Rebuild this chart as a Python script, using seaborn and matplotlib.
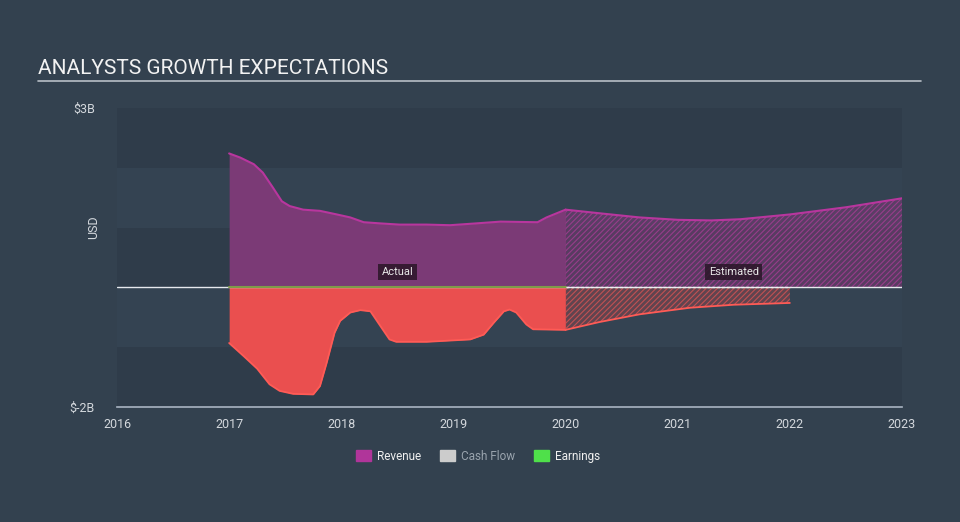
import numpy as np
import pandas as pd
import matplotlib
matplotlib.use("Agg")
import matplotlib.pyplot as plt
from matplotlib.patches import Patch
import seaborn as sns

# ---- data (billions USD) ----
rev_act_x = [2017.0, 2017.10, 2017.22, 2017.30, 2017.39, 2017.47, 2017.54, 2017.66, 2017.81, 2017.96, 2018.08,
             2018.20, 2018.35, 2018.52, 2018.76, 2018.97, 2019.20, 2019.42, 2019.75, 2019.83, 2020.0]
rev_act_y = [2.24, 2.17, 2.06, 1.92, 1.67, 1.44, 1.36, 1.30, 1.28, 1.22, 1.17,
             1.09, 1.07, 1.05, 1.05, 1.04, 1.07, 1.10, 1.09, 1.17, 1.30]
rev_est_x = [2020.0, 2020.3, 2020.66, 2021.0, 2021.3, 2021.56, 2022.0, 2022.5, 2023.0]
rev_est_y = [1.30, 1.24, 1.17, 1.13, 1.12, 1.14, 1.22, 1.34, 1.49]

earn_act_x = [2017.0, 2017.13, 2017.25, 2017.36, 2017.45, 2017.57, 2017.75, 2017.81, 2017.87, 2017.94, 2017.99,
              2018.08, 2018.17, 2018.26, 2018.35, 2018.43, 2018.49, 2018.76, 2019.15, 2019.27, 2019.36,
              2019.45, 2019.50, 2019.56, 2019.65, 2019.71, 2020.0]
earn_act_y = [-0.93, -1.15, -1.36, -1.62, -1.73, -1.78, -1.79, -1.65, -1.26, -0.76, -0.56,
              -0.42, -0.38, -0.40, -0.65, -0.87, -0.91, -0.91, -0.87, -0.79, -0.59,
              -0.40, -0.37, -0.42, -0.62, -0.70, -0.71]
earn_est_x = [2020.0, 2020.3, 2020.66, 2021.11, 2021.5, 2022.0]
earn_est_y = [-0.71, -0.58, -0.45, -0.34, -0.29, -0.26]

y_ticks = [3, -2]
y_tick_labels = ["$3B", "$-2B"]
x_ticks = [2016, 2017, 2018, 2019, 2020, 2021, 2022, 2023]

BG = "#33414f"
REV_LINE = "#b8369e"
REV_FILL = "#7b3a76"
EARN_LINE = "#ff5b56"
EARN_FILL = "#ea4f4f"
TXT = "#d4d8dd"

sns.set_theme(style="white")
plt.rcParams["font.family"] = ["Roboto", "DejaVu Sans"]
plt.rcParams["hatch.linewidth"] = 0.8

fig = plt.figure(figsize=(9.6, 5.22), dpi=100, facecolor=BG)
ax = fig.add_axes([117 / 960, 1 - 407 / 522, 785 / 960, 299 / 522])
ax.set_facecolor(BG)
ax.set_xlim(2016, 2023)
ax.set_ylim(-2, 3)

# horizontal bands
band_cols = ["#2f3c4a", "#344352", "#2f3c4a", "#344352", "#2f3c4a"]
for i, c in enumerate(band_cols):
    ax.axhspan(3 - i - 1, 3 - i, color=c, zorder=0, lw=0)

# revenue actual
ax.fill_between(rev_act_x, 0, rev_act_y, color=REV_FILL, lw=0, zorder=2)
sns.lineplot(x=rev_act_x, y=rev_act_y, ax=ax, color=REV_LINE, lw=1.5, zorder=3)
# revenue estimate (hatched)
ax.fill_between(rev_est_x, 0, rev_est_y, facecolor=(0.48, 0.23, 0.46, 0.55),
                edgecolor=(0.62, 0.24, 0.56, 0.9), hatch="//////", lw=0, zorder=2)
sns.lineplot(x=rev_est_x, y=rev_est_y, ax=ax, color=REV_LINE, lw=1.5, zorder=3)

# earnings actual
ax.fill_between(earn_act_x, 0, earn_act_y, color=EARN_FILL, lw=0, zorder=2)
sns.lineplot(x=earn_act_x, y=earn_act_y, ax=ax, color=EARN_LINE, lw=1.3, zorder=3)
ax.fill_between(earn_est_x, 0, earn_est_y, facecolor=(0.55, 0.27, 0.3, 0.5),
                edgecolor=(0.85, 0.33, 0.33, 0.8), hatch="//////", lw=0, zorder=2)
sns.lineplot(x=earn_est_x, y=earn_est_y, ax=ax, color=EARN_LINE, lw=1.3, zorder=3)

# zero line and cash flow line
ax.axhline(0, color="#e6e9ee", lw=1.0, zorder=4)
ax.plot([2017, 2020], [0, 0], color="#7f9a4a", lw=1.5, zorder=5)
ax.plot([2020, 2022], [0, 0], color="#f0f0f0", lw=1.0, ls=(0, (2, 1.5)), zorder=5)

# annotations
box = dict(boxstyle="square,pad=0.3", fc="#2a1628", ec="none", alpha=0.85)
ax.text(2018.5, 0.26, "Actual", color="#e8e8e8", fontsize=8, ha="center", va="center", bbox=box, zorder=6)
ax.text(2021.5, 0.26, "Estimated", color="#e8e8e8", fontsize=8, ha="center", va="center", bbox=box, zorder=6)

# axes styling
for s in ["top", "right", "left"]:
    ax.spines[s].set_visible(False)
ax.spines["bottom"].set_color("#a9b4c2")
ax.spines["bottom"].set_linewidth(1.2)
ax.set_xticks(x_ticks)
ax.set_xticklabels([str(t) for t in x_ticks])
ax.tick_params(axis="x", colors="#a9b4c2", labelcolor=TXT, length=6, width=1, direction="out", labelsize=9, pad=2)
ax.set_yticks(y_ticks)
ax.set_yticklabels(y_tick_labels)
ax.tick_params(axis="y", length=0, labelcolor=TXT, labelsize=9, pad=16)
ax.set_ylabel("USD", color=TXT, fontsize=9, labelpad=2)
ax.yaxis.set_label_coords(-0.022, 0.6)
ax.set_xlabel("")

# title + underline
fig.text(38 / 960, 1 - 69 / 522, "ANALYSTS GROWTH EXPECTATIONS", color="#f2f2f2", fontsize=15, ha="left", va="center")
fig.add_artist(plt.Line2D([38 / 960, 921 / 960], [1 - 81 / 522, 1 - 81 / 522], color="#b8bec6", lw=1.2))

# legend
handles = [Patch(color="#b0359a", label="Revenue"),
           Patch(color="#cccccc", label="Cash Flow"),
           Patch(color="#4fe04a", label="Earnings")]
leg = fig.legend(handles=handles, loc="center", bbox_to_anchor=(478 / 960, 1 - 456 / 522), ncol=3,
                 frameon=False, fontsize=8.5, handlelength=1.3, handleheight=1.0, columnspacing=1.6, handletextpad=0.5)
for t, c in zip(leg.get_texts(), ["#f0f0f0", "#9aa4ae", "#f0f0f0"]):
    t.set_color(c)

fig.savefig("out.png", dpi=100, facecolor=BG)
